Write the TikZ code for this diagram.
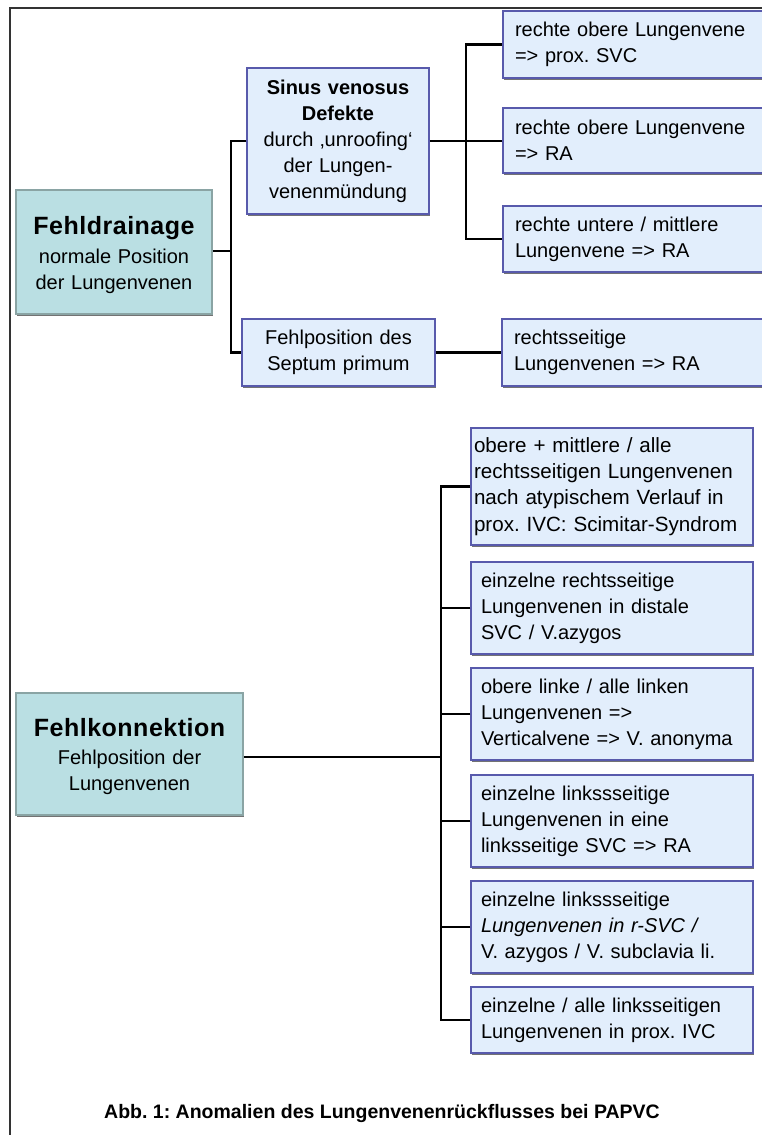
\documentclass[tikz,border=0pt]{standalone}
\usepackage{fontspec}
\setmainfont{Liberation Sans}
\usetikzlibrary{shadows}
\definecolor{bfill}{RGB}{226,238,252}
\definecolor{bdraw}{RGB}{88,90,172}
\definecolor{tfill}{RGB}{186,223,227}
\definecolor{tdraw}{RGB}{138,164,164}
\newcommand{\bigtitle}[1]{{\bfseries\fontsize{25}{30}\selectfont\addfontfeature{LetterSpace=2}\rule{0pt}{24pt}#1}}
\begin{document}
\frenchspacing
\begin{tikzpicture}[x=1pt,y=-1pt,
  basebox/.style={line width=1.5pt, inner ysep=3pt, anchor=center,
    font=\fontsize{20}{26}\selectfont\frenchspacing,
    drop shadow={shadow xshift=1.3pt, shadow yshift=-1.6pt, fill=black!55, opacity=1}},
  bbox/.style={basebox, draw=bdraw, fill=bfill},
  lbox/.style={bbox, align=left, inner xsep=12pt},
  cbox/.style={bbox, align=center, inner xsep=5pt},
  tbox/.style={basebox, draw=tdraw, fill=tfill, align=center, inner xsep=5pt},
  conn/.style={line width=2.4pt, black},
  frame/.style={line width=1.2pt, black!80}]
\useasboundingbox (0,0) rectangle (761,1135);
\draw[frame] (10,1140) -- (10,8) -- (770,8);

% top group
\node[tbox, text width=186pt, minimum height=124pt] (fd) at (114,252)
  {\bigtitle{Fehldrainage}\\[3pt]normale Position\\der Lungenvenen};
\node[cbox, text width=172pt, minimum height=146pt] (sv) at (338,141)
  {\textbf{Sinus venosus}\\\textbf{Defekte}\\durch ‚unroofing‘\\der Lungen-\\venenmündung};
\node[cbox, text width=183pt, minimum height=67pt] (fp) at (338.5,352.5)
  {Fehlposition des\\Septum primum};
\node[lbox, text width=240pt, minimum height=67pt] (r1) at (635,44.5)
  {rechte obere Lungenvene\\=> prox. SVC};
\node[lbox, text width=240pt, minimum height=65pt] (r2) at (635,140.5)
  {rechte obere Lungenvene\\=> RA};
\node[lbox, text width=240pt, minimum height=66pt] (r3) at (635,239)
  {rechte untere / mittlere\\Lungenvene => RA};
\node[lbox, text width=240pt, minimum height=67pt] (rs) at (634,352.5)
  {rechtsseitige\\Lungenvenen => RA};

% bottom group
\node[tbox, text width=217pt, minimum height=122pt] (fk) at (129.5,754)
  {\bigtitle{Fehlkonnektion}\\[2pt]Fehlposition der\\Lungenvenen};
\node[lbox, inner xsep=3pt, text width=276pt, minimum height=117pt,
      font=\fontsize{20.6}{26.3}\selectfont\frenchspacing] (la) at (612,486.5)
  {\mbox{obere + mittlere / alle}\\\mbox{rechtsseitigen Lungenvenen}\\\mbox{nach atypischem Verlauf in}\\\mbox{prox. IVC: Scimitar-Syndrom}};
\node[lbox, inner xsep=10pt, text width=262pt, minimum height=92pt] (lb) at (612,608)
  {einzelne rechtsseitige\\Lungenvenen in distale\\SVC / V.azygos};
\node[lbox, inner xsep=10pt, text width=262pt, minimum height=92pt] (lc) at (612,714)
  {obere linke / alle linken\\Lungenvenen =>\\Verticalvene => V. anonyma};
\node[lbox, inner xsep=10pt, text width=262pt, minimum height=92pt] (ld) at (612,821)
  {einzelne linkssseitige\\Lungenvenen in eine\\linksseitige SVC => RA};
\node[lbox, inner xsep=10pt, text width=262pt, minimum height=92pt] (le) at (612,927)
  {einzelne linkssseitige\\\textit{Lungenvenen in r-SVC /}\\V. azygos / V. subclavia li.};
\node[lbox, inner xsep=10pt, text width=262pt, minimum height=66pt] (lf) at (612,1020)
  {einzelne / alle linksseitigen\\Lungenvenen in prox. IVC};

% connectors top
\coordinate (j1) at (231,251);
\coordinate (j2) at (466,141);
\draw[conn] (fd.east |- j1) -- (j1);
\draw[conn] (sv.west) -| (j1) |- (fp.west);
\draw[conn] (sv.east) -- (sv.east -| r2.west);
\draw[conn] (r1.west) -| (j2) |- (r3.west);
\draw[conn] (fp.east) -- (rs.west);

% connectors bottom
\coordinate (j3) at (441,757);
\draw[conn] (fk.east |- j3) -- (j3);
\draw[conn] (la.west) -| (j3) |- (lf.west);
\draw[conn] (lb.west) -- (lb.west -| j3);
\draw[conn] (lc.west) -- (lc.west -| j3);
\draw[conn] (ld.west) -- (ld.west -| j3);
\draw[conn] (le.west) -- (le.west -| j3);

\node[font=\bfseries\fontsize{19.5}{22}\selectfont, inner sep=0pt] (cap) at (382,1113)
  {Abb. 1: Anomalien des Lungenvenenrückflusses bei PAPVC};
\end{tikzpicture}
\end{document}
